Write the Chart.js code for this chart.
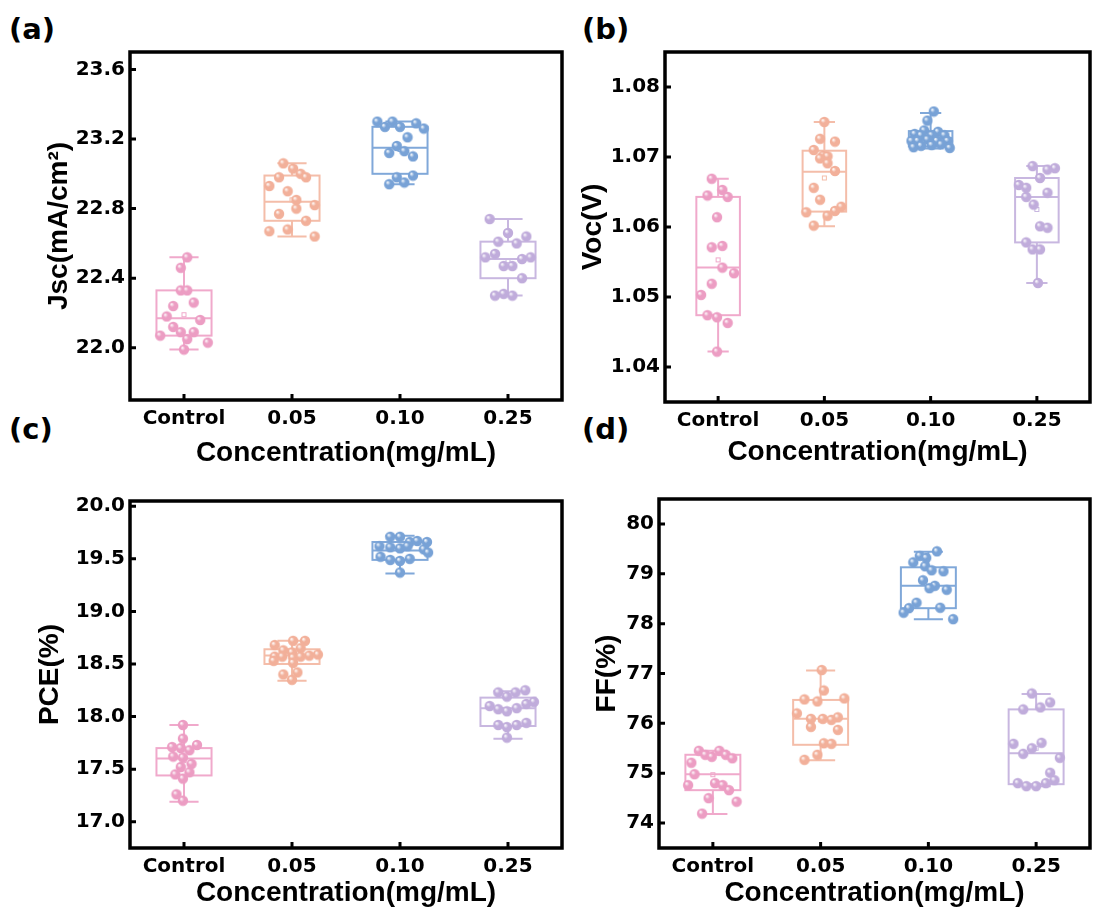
<!DOCTYPE html>
<html>
<head>
<meta charset="utf-8">
<script src="https://cdn.jsdelivr.net/npm/chart.js@4.4.1/dist/chart.umd.min.js"></script>
<style>
  html, body { margin: 0; padding: 0; background: #fff; }
  body { width: 1096px; height: 920px; position: relative; overflow: hidden; }
  canvas { position: absolute; }
  .tag { position: absolute; font: bold 29px 'DejaVu Sans', sans-serif; line-height: 1; color: #000; }
</style>
</head>
<body>
<div class="tag" style="left:9px;top:15px">(a)</div>
<div class="tag" style="left:582px;top:15px">(b)</div>
<div class="tag" style="left:9px;top:415px">(c)</div>
<div class="tag" style="left:582px;top:415px">(d)</div>
<canvas id="jsc" width="575" height="470" style="left:0;top:0"></canvas>
<canvas id="voc" width="548" height="470" style="left:548px;top:0"></canvas>
<canvas id="pce" width="575" height="480" style="left:0;top:440px"></canvas>
<canvas id="ff" width="548" height="480" style="left:548px;top:440px"></canvas>
<script>
const categories = ['Control', '0.05', '0.10', '0.25'];
const pointColors = ['#EC9DC3', '#F2B09A', '#78A2D6', '#C0ACDB'];
const boxColors = ['#F0A9CB', '#F4BDA9', '#80A8D9', '#C8B7E0'];

// box rows: [low whisker, q1, median, q3, high whisker, mean]

// (a) Jsc
const jscTicks = [22.0, 22.4, 22.8, 23.2, 23.6];
const jscValues = [
  [22.52, 22.46, 22.33, 22.33, 22.24, 22.26, 22.18, 22.16, 22.12, 22.09, 22.09, 22.07, 22.05, 22.03, 21.99],
  [23.06, 23.03, 23.00, 22.98, 22.98, 22.93, 22.90, 22.85, 22.82, 22.77, 22.80, 22.73, 22.67, 22.68, 22.64],
  [23.30, 23.30, 23.27, 23.27, 23.29, 23.26, 23.21, 23.16, 23.12, 23.13, 23.10, 22.99, 22.98, 22.94, 22.95],
  [22.74, 22.66, 22.61, 22.60, 22.64, 22.52, 22.54, 22.51, 22.52, 22.47, 22.47, 22.40, 22.30, 22.31, 22.30]
];
const jscJitter = [
  [0.03, -0.03, -0.03, 0.03, -0.10, 0.09, -0.16, 0.15, -0.10, -0.03, 0.09, -0.22, 0.03, 0.22, 0.00],
  [-0.08, 0.01, 0.08, 0.13, -0.12, -0.21, -0.04, 0.04, 0.21, -0.12, 0.04, 0.13, -0.21, -0.04, 0.21],
  [-0.21, -0.07, -0.14, 0.00, 0.15, 0.22, 0.07, -0.03, -0.10, 0.04, 0.12, 0.12, -0.03, -0.10, 0.04],
  [-0.17, 0.00, -0.09, 0.08, 0.17, -0.21, -0.12, 0.13, 0.21, -0.04, 0.04, 0.13, -0.12, -0.04, 0.04]
];
const jscBox = [
  [21.99, 22.07, 22.17, 22.33, 22.52, 22.19],
  [22.64, 22.73, 22.84, 22.99, 23.06, 22.85],
  [22.94, 23.00, 23.15, 23.27, 23.30, 23.14],
  [22.30, 22.40, 22.51, 22.61, 22.74, 22.50]
];

// (b) Voc
const vocTicks = [1.04, 1.05, 1.06, 1.07, 1.08];
const vocValues = [
  [1.0669, 1.0653, 1.0645, 1.0643, 1.0614, 1.0571, 1.0573, 1.0542, 1.0534, 1.0519, 1.0503, 1.0474, 1.0471, 1.0463, 1.0422],
  [1.0750, 1.0726, 1.0722, 1.0710, 1.0702, 1.0701, 1.0698, 1.0691, 1.0680, 1.0656, 1.0639, 1.0629, 1.0623, 1.0621, 1.0616, 1.0602],
  [1.0765, 1.0752, 1.0738, 1.0736, 1.0733, 1.0731, 1.0731, 1.0731, 1.0723, 1.0723, 1.0725, 1.0723, 1.0723, 1.0714, 1.0716, 1.0717, 1.0718, 1.0713],
  [1.0687, 1.0682, 1.0684, 1.0670, 1.0660, 1.0656, 1.0649, 1.0643, 1.0632, 1.0601, 1.0599, 1.0578, 1.0568, 1.0568, 1.0520]
];
const vocJitter = [
  [-0.06, 0.04, -0.10, 0.09, -0.01, -0.06, 0.04, 0.04, 0.15, -0.06, -0.16, -0.10, -0.01, 0.09, -0.01],
  [0.00, -0.04, 0.10, -0.10, -0.01, 0.03, -0.04, 0.03, 0.10, -0.10, -0.04, 0.16, 0.10, -0.17, 0.03, -0.10],
  [0.03, -0.03, -0.06, 0.07, -0.15, -0.09, 0.01, 0.13, -0.18, -0.12, -0.03, 0.06, 0.16, -0.16, -0.09, 0.01, 0.10, 0.18],
  [-0.04, 0.10, 0.17, 0.03, -0.17, -0.10, 0.10, -0.10, -0.03, 0.03, 0.10, -0.10, -0.04, 0.03, 0.01]
];
const vocBox = [
  [1.0422, 1.0474, 1.0542, 1.0643, 1.0669, 1.0553],
  [1.0601, 1.0622, 1.0679, 1.0709, 1.0750, 1.0670],
  [1.0712, 1.0715, 1.0727, 1.0737, 1.0763, 1.0727],
  [1.0520, 1.0578, 1.0643, 1.0670, 1.0687, 1.0625]
];

// (c) PCE
const pceTicks = [17.0, 17.5, 18.0, 18.5, 19.0, 19.5, 20.0];
const pceValues = [
  [17.92, 17.79, 17.71, 17.70, 17.73, 17.68, 17.62, 17.61, 17.55, 17.52, 17.45, 17.47, 17.41, 17.26, 17.20],
  [18.68, 18.72, 18.72, 18.63, 18.65, 18.61, 18.57, 18.57, 18.56, 18.57, 18.58, 18.59, 18.53, 18.51, 18.40, 18.42, 18.35],
  [19.71, 19.71, 19.66, 19.67, 19.66, 19.62, 19.61, 19.60, 19.62, 19.59, 19.56, 19.52, 19.49, 19.48, 19.50, 19.37],
  [18.23, 18.19, 18.23, 18.25, 18.10, 18.07, 18.05, 18.08, 18.12, 18.14, 17.92, 17.90, 17.92, 17.94, 17.80]
];
const pceJitter = [
  [-0.01, -0.01, -0.11, -0.03, 0.12, 0.05, -0.10, -0.01, 0.07, -0.03, -0.08, 0.05, -0.01, -0.07, -0.01],
  [-0.16, 0.01, 0.12, -0.08, 0.08, 0.00, -0.16, -0.09, 0.01, 0.08, 0.16, 0.24, -0.17, 0.01, -0.08, 0.05, 0.00],
  [-0.09, 0.00, 0.09, 0.16, 0.25, -0.19, -0.09, 0.00, 0.07, 0.22, 0.26, -0.18, -0.09, 0.00, 0.09, 0.00],
  [-0.09, -0.01, 0.07, 0.16, -0.17, -0.09, -0.01, 0.08, 0.17, 0.24, -0.09, -0.01, 0.08, 0.17, -0.01]
];
const pceBox = [
  [17.19, 17.44, 17.60, 17.70, 17.92, 17.58],
  [18.34, 18.50, 18.58, 18.64, 18.72, 18.57],
  [19.36, 19.49, 19.58, 19.66, 19.72, 19.58],
  [17.79, 17.91, 18.08, 18.18, 18.24, 18.06]
];

// (d) FF
const ffTicks = [74, 75, 76, 77, 78, 79, 80];
const ffValues = [
  [75.45, 75.37, 75.33, 75.45, 75.37, 75.30, 75.21, 74.98, 74.76, 74.80, 74.76, 74.66, 74.50, 74.43, 74.19],
  [77.07, 76.66, 76.48, 76.44, 76.50, 76.20, 76.09, 76.09, 76.07, 76.12, 75.93, 75.87, 75.60, 75.59, 75.37, 75.27],
  [79.45, 79.36, 79.32, 79.23, 79.15, 79.07, 79.05, 78.87, 78.76, 78.71, 78.68, 78.42, 78.31, 78.32, 78.22, 78.09],
  [76.60, 76.42, 76.28, 76.32, 75.59, 75.61, 75.50, 75.39, 75.31, 75.01, 74.86, 74.80, 74.74, 74.74, 74.80]
];
const ffJitter = [
  [-0.13, -0.07, -0.01, 0.06, 0.12, 0.18, -0.20, -0.17, -0.23, 0.02, 0.09, 0.15, -0.04, 0.22, -0.10],
  [0.01, 0.03, -0.15, -0.03, 0.22, -0.22, -0.09, 0.02, 0.10, 0.16, -0.09, 0.16, 0.03, 0.10, -0.03, -0.15],
  [0.08, -0.08, -0.02, -0.14, -0.03, 0.03, 0.14, -0.05, 0.06, 0.01, 0.17, -0.11, -0.18, 0.11, -0.23, 0.23],
  [-0.04, 0.13, -0.12, 0.04, -0.21, 0.05, -0.04, -0.12, 0.22, 0.13, 0.17, -0.17, -0.09, 0.00, 0.09]
];
const ffBox = [
  [74.18, 74.66, 74.98, 75.37, 75.45, 74.97],
  [75.26, 75.57, 76.09, 76.47, 77.06, 76.07],
  [78.09, 78.31, 78.76, 79.13, 79.44, 78.75],
  [74.74, 74.78, 75.40, 76.28, 76.59, 75.50]
];

const tickFont = {family: "'DejaVu Sans', sans-serif", size: 20, weight: 'bold'};
const titleFont = {family: "'Liberation Sans', Arial, sans-serif", size: 28, weight: 'bold'};

// shaded little spheres like the origin markers
function ball(color) {
  const c = document.createElement('canvas');
  c.width = c.height = 12;
  const g = c.getContext('2d');
  const grad = g.createRadialGradient(4.2, 4.0, 0.2, 6, 6, 5.4);
  grad.addColorStop(0, '#ffffff');
  grad.addColorStop(0.4, color);
  grad.addColorStop(1, color);
  g.fillStyle = grad;
  g.beginPath();
  g.arc(6, 6, 5.2, 0, Math.PI * 2);
  g.fill();
  return c;
}
const balls = pointColors.map(ball);

const boxPlot = {
  id: 'boxPlot',
  beforeDatasetsDraw(chart, args, opts) {
    const {ctx, scales: {x, y}} = chart;
    ctx.save();
    opts.stats.forEach((s, i) => {
      const [lo, q1, med, q3, hi, mean] = s;
      const cx = x.getPixelForValue(i + 1);
      const half = x.getPixelForValue(1 + opts.width / 2) - x.getPixelForValue(1);
      const cap = x.getPixelForValue(1 + opts.cap / 2) - x.getPixelForValue(1);
      const top = y.getPixelForValue(q3), bot = y.getPixelForValue(q1);
      const yHi = y.getPixelForValue(hi), yLo = y.getPixelForValue(lo);
      const yMed = y.getPixelForValue(med), yMean = y.getPixelForValue(mean);
      ctx.strokeStyle = boxColors[i];
      ctx.lineWidth = 2;
      ctx.beginPath();
      ctx.moveTo(cx, yHi); ctx.lineTo(cx, top);
      ctx.moveTo(cx, bot); ctx.lineTo(cx, yLo);
      ctx.moveTo(cx - cap, yHi); ctx.lineTo(cx + cap, yHi);
      ctx.moveTo(cx - cap, yLo); ctx.lineTo(cx + cap, yLo);
      ctx.moveTo(cx - half, yMed); ctx.lineTo(cx + half, yMed);
      ctx.stroke();
      ctx.strokeRect(cx - half, top, 2 * half, bot - top);
      ctx.lineWidth = 1;
      ctx.strokeRect(cx - 2, yMean - 2, 4, 4);
    });
    ctx.restore();
  }
};

const frame = {
  id: 'frame',
  afterDraw(chart) {
    const {ctx, chartArea: a, scales: {x, y}} = chart;
    ctx.save();
    ctx.strokeStyle = '#000';
    ctx.lineWidth = 3.5;
    ctx.strokeRect(a.left, a.top, a.right - a.left, a.bottom - a.top);
    ctx.lineWidth = 3;
    ctx.beginPath();
    y.ticks.forEach(t => {
      const py = y.getPixelForValue(t.value);
      ctx.moveTo(a.left, py); ctx.lineTo(a.left + 6, py);
    });
    x.ticks.forEach(t => {
      const px = x.getPixelForValue(t.value);
      ctx.moveTo(px, a.bottom); ctx.lineTo(px, a.bottom - 6);
    });
    ctx.stroke();
    ctx.restore();
  }
};

function panel(id, values, jitter, stats, ticks, min, max, digits, yTitle, geo) {
  const datasets = values.map((vals, i) => ({
    data: vals.map((v, k) => ({x: i + 1 + jitter[i][k], y: v})),
    pointStyle: balls[i],
    pointRadius: 5,
    showLine: false
  }));
  new Chart(document.getElementById(id), {
    type: 'scatter',
    data: {datasets},
    options: {
      responsive: false,
      animation: false,
      devicePixelRatio: 1,
      events: [],
      layout: {padding: geo.pad},
      plugins: {
        legend: {display: false},
        tooltip: {enabled: false},
        boxPlot: {stats, width: geo.boxW, cap: geo.capW}
      },
      scales: {
        x: {
          type: 'linear', min: 0.5, max: 4.5,
          grid: {display: false, drawTicks: false},
          border: {display: false},
          afterBuildTicks: s => { s.ticks = [1, 2, 3, 4].map(v => ({value: v})); },
          afterFit: s => { s.height = geo.xh; },
          ticks: {autoSkip: false, maxRotation: 0, padding: 7, color: '#000', font: tickFont,
                  callback: v => categories[v - 1]},
          title: {display: true, text: 'Concentration(mg/mL)', color: '#000', font: titleFont, padding: 0}
        },
        y: {
          min, max,
          grid: {display: false, drawTicks: false},
          border: {display: false},
          afterBuildTicks: s => { s.ticks = ticks.map(v => ({value: v})); },
          afterFit: s => { s.width = geo.yw; },
          ticks: {padding: 5, color: '#000', font: tickFont, callback: v => v.toFixed(digits)},
          title: {display: true, text: yTitle, color: '#000', font: titleFont, padding: 0}
        }
      }
    },
    plugins: [boxPlot, frame]
  });
}

panel('jsc', jscValues, jscJitter, jscBox, jscTicks, 21.7, 23.7, 1, 'Jsc(mA/cm²)',
  {pad: {left: 42, top: 52, right: 13, bottom: 0}, yw: 88, xh: 70, boxW: 0.51, capW: 0.27});
panel('voc', vocValues, vocJitter, vocBox, vocTicks, 1.035, 1.085, 2, 'Voc(V)',
  {pad: {left: 28, top: 52, right: 2, bottom: 1}, yw: 89, xh: 67, boxW: 0.41, capW: 0.2});
panel('pce', pceValues, pceJitter, pceBox, pceTicks, 16.75, 20.05, 1, 'PCE(%)',
  {pad: {left: 33, top: 61, right: 13, bottom: 10}, yw: 97, xh: 62, boxW: 0.51, capW: 0.27});
panel('ff', ffValues, ffJitter, ffBox, ffTicks, 73.5, 80.5, 0, 'FF(%)',
  {pad: {left: 42, top: 59, right: 5, bottom: 10}, yw: 69, xh: 62, boxW: 0.51, capW: 0.27});
</script>
</body>
</html>
